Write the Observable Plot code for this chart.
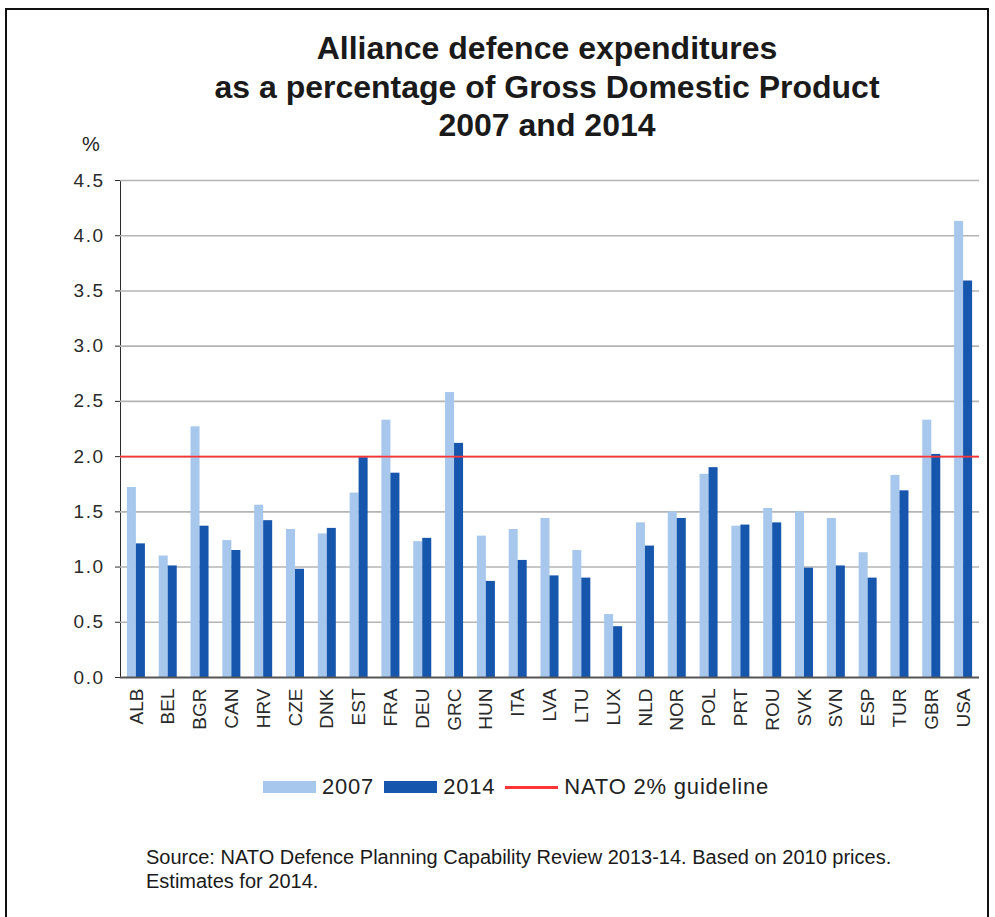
<!DOCTYPE html>
<html>
<head>
<meta charset="utf-8">
<script src="https://cdn.jsdelivr.net/npm/d3@7"></script>
<script src="https://cdn.jsdelivr.net/npm/@observablehq/plot@0.6"></script>
<style>
  html, body { margin: 0; padding: 0; background: #fff; }
  body { width: 995px; height: 917px; position: relative; overflow: hidden; font-family: "Liberation Sans", Arial, sans-serif; color: #1a1a1a; }
  #frame { position: absolute; left: 5px; top: 8px; width: 984px; height: 1000px; border: 2px solid #111; box-sizing: border-box; }
  #title { position: absolute; left: 100px; width: 894px; top: 29px; text-align: center; font-weight: 700; font-size: 32px; line-height: 38.5px; color: #1a1a1a; }
  #unit { position: absolute; left: 82px; top: 134px; font-size: 20px; line-height: 20px; color: #222; }
  #chart { position: absolute; left: 0; top: 160px; }
  #legend { position: absolute; left: 263px; top: 775px; height: 24px; display: flex; align-items: center; font-size: 22px; letter-spacing: 0.8px; color: #222; }
  #legend .sw { width: 53px; height: 12px; margin-right: 6px; }
  #legend .ln { width: 53px; height: 3px; margin-right: 6px; }
  #legend .lab { margin-right: 10px; }
  #caption { position: absolute; left: 146px; top: 845px; font-size: 20px; line-height: 24px; color: #1a1a1a; }
</style>
</head>
<body>
<div id="frame"></div>
<div id="title">Alliance defence expenditures<br>as a percentage of Gross Domestic Product<br>2007 and 2014</div>
<div id="unit">%</div>
<div id="chart"></div>
<div id="legend"></div>
<div id="caption">Source: NATO Defence Planning Capability Review 2013-14. Based on 2010 prices.<br>Estimates for 2014.</div>
<script>
const countries = ["ALB","BEL","BGR","CAN","HRV","CZE","DNK","EST","FRA","DEU","GRC","HUN","ITA","LVA","LTU","LUX","NLD","NOR","POL","PRT","ROU","SVK","SVN","ESP","TUR","GBR","USA"];
const v2007 = [1.72,1.10,2.27,1.24,1.56,1.34,1.30,1.67,2.33,1.23,2.58,1.28,1.34,1.44,1.15,0.57,1.40,1.50,1.84,1.37,1.53,1.50,1.44,1.13,1.83,2.33,4.13];
const v2014 = [1.21,1.01,1.37,1.15,1.42,0.98,1.35,1.99,1.85,1.26,2.12,0.87,1.06,0.92,0.90,0.46,1.19,1.44,1.90,1.38,1.40,0.99,1.01,0.90,1.69,2.02,3.59];
const yTicks = [0,0.5,1,1.5,2,2.5,3,3.5,4,4.5];
const guideline = [2];
const seriesNames = ["2007", "2014"];
const guideName = "NATO 2% guideline";
const colors = {"2007": "#a7c8ec", "2014": "#1656ad", guide: "#ff3535"};

const bars2007 = countries.map((c, i) => ({country: c, value: v2007[i]}));
const bars2014 = countries.map((c, i) => ({country: c, value: v2014[i]}));

const svg = Plot.plot({
  width: 995,
  height: 592,
  marginTop: 20,
  marginBottom: 75,
  marginLeft: 120,
  marginRight: 16,
  style: {fontFamily: "'Liberation Sans', Arial, sans-serif", fontSize: "19px", color: "#2a2a2a", background: "transparent"},
  x: {domain: countries, padding: 0, round: false, tickRotate: -90, tickSize: 0, tickPadding: 11, label: null},
  y: {domain: [0, 4.5], ticks: yTicks, tickFormat: d3.format(".1f"), tickSize: 5, tickPadding: 11, label: null, line: true},
  marks: [
    Plot.ruleY(yTicks.filter(d => d > 0), {stroke: "#b4b4b4", strokeWidth: 1.6}),
    Plot.barY(bars2007, {x: "country", y: "value", fill: colors["2007"], insetLeft: 6.9, insetRight: 15.9}),
    Plot.barY(bars2014, {x: "country", y: "value", fill: colors["2014"], insetLeft: 15.9, insetRight: 6.9}),
    Plot.ruleY(guideline, {stroke: colors.guide, strokeWidth: 1.6}),
    Plot.ruleY([0], {stroke: "#555", strokeWidth: 2})
  ]
});
d3.select(svg).selectAll('g[aria-label^="y-axis"] text').attr("letter-spacing", "1.5px");
document.getElementById("chart").appendChild(svg);

const legend = document.getElementById("legend");
seriesNames.forEach(s => {
  const sw = document.createElement("div");
  sw.className = "sw"; sw.style.background = colors[s];
  const lab = document.createElement("span");
  lab.className = "lab"; lab.textContent = s;
  legend.appendChild(sw); legend.appendChild(lab);
});
const ln = document.createElement("div");
ln.className = "ln"; ln.style.background = colors.guide;
const gl = document.createElement("span");
gl.textContent = guideName;
legend.appendChild(ln); legend.appendChild(gl);
</script>
</body>
</html>
